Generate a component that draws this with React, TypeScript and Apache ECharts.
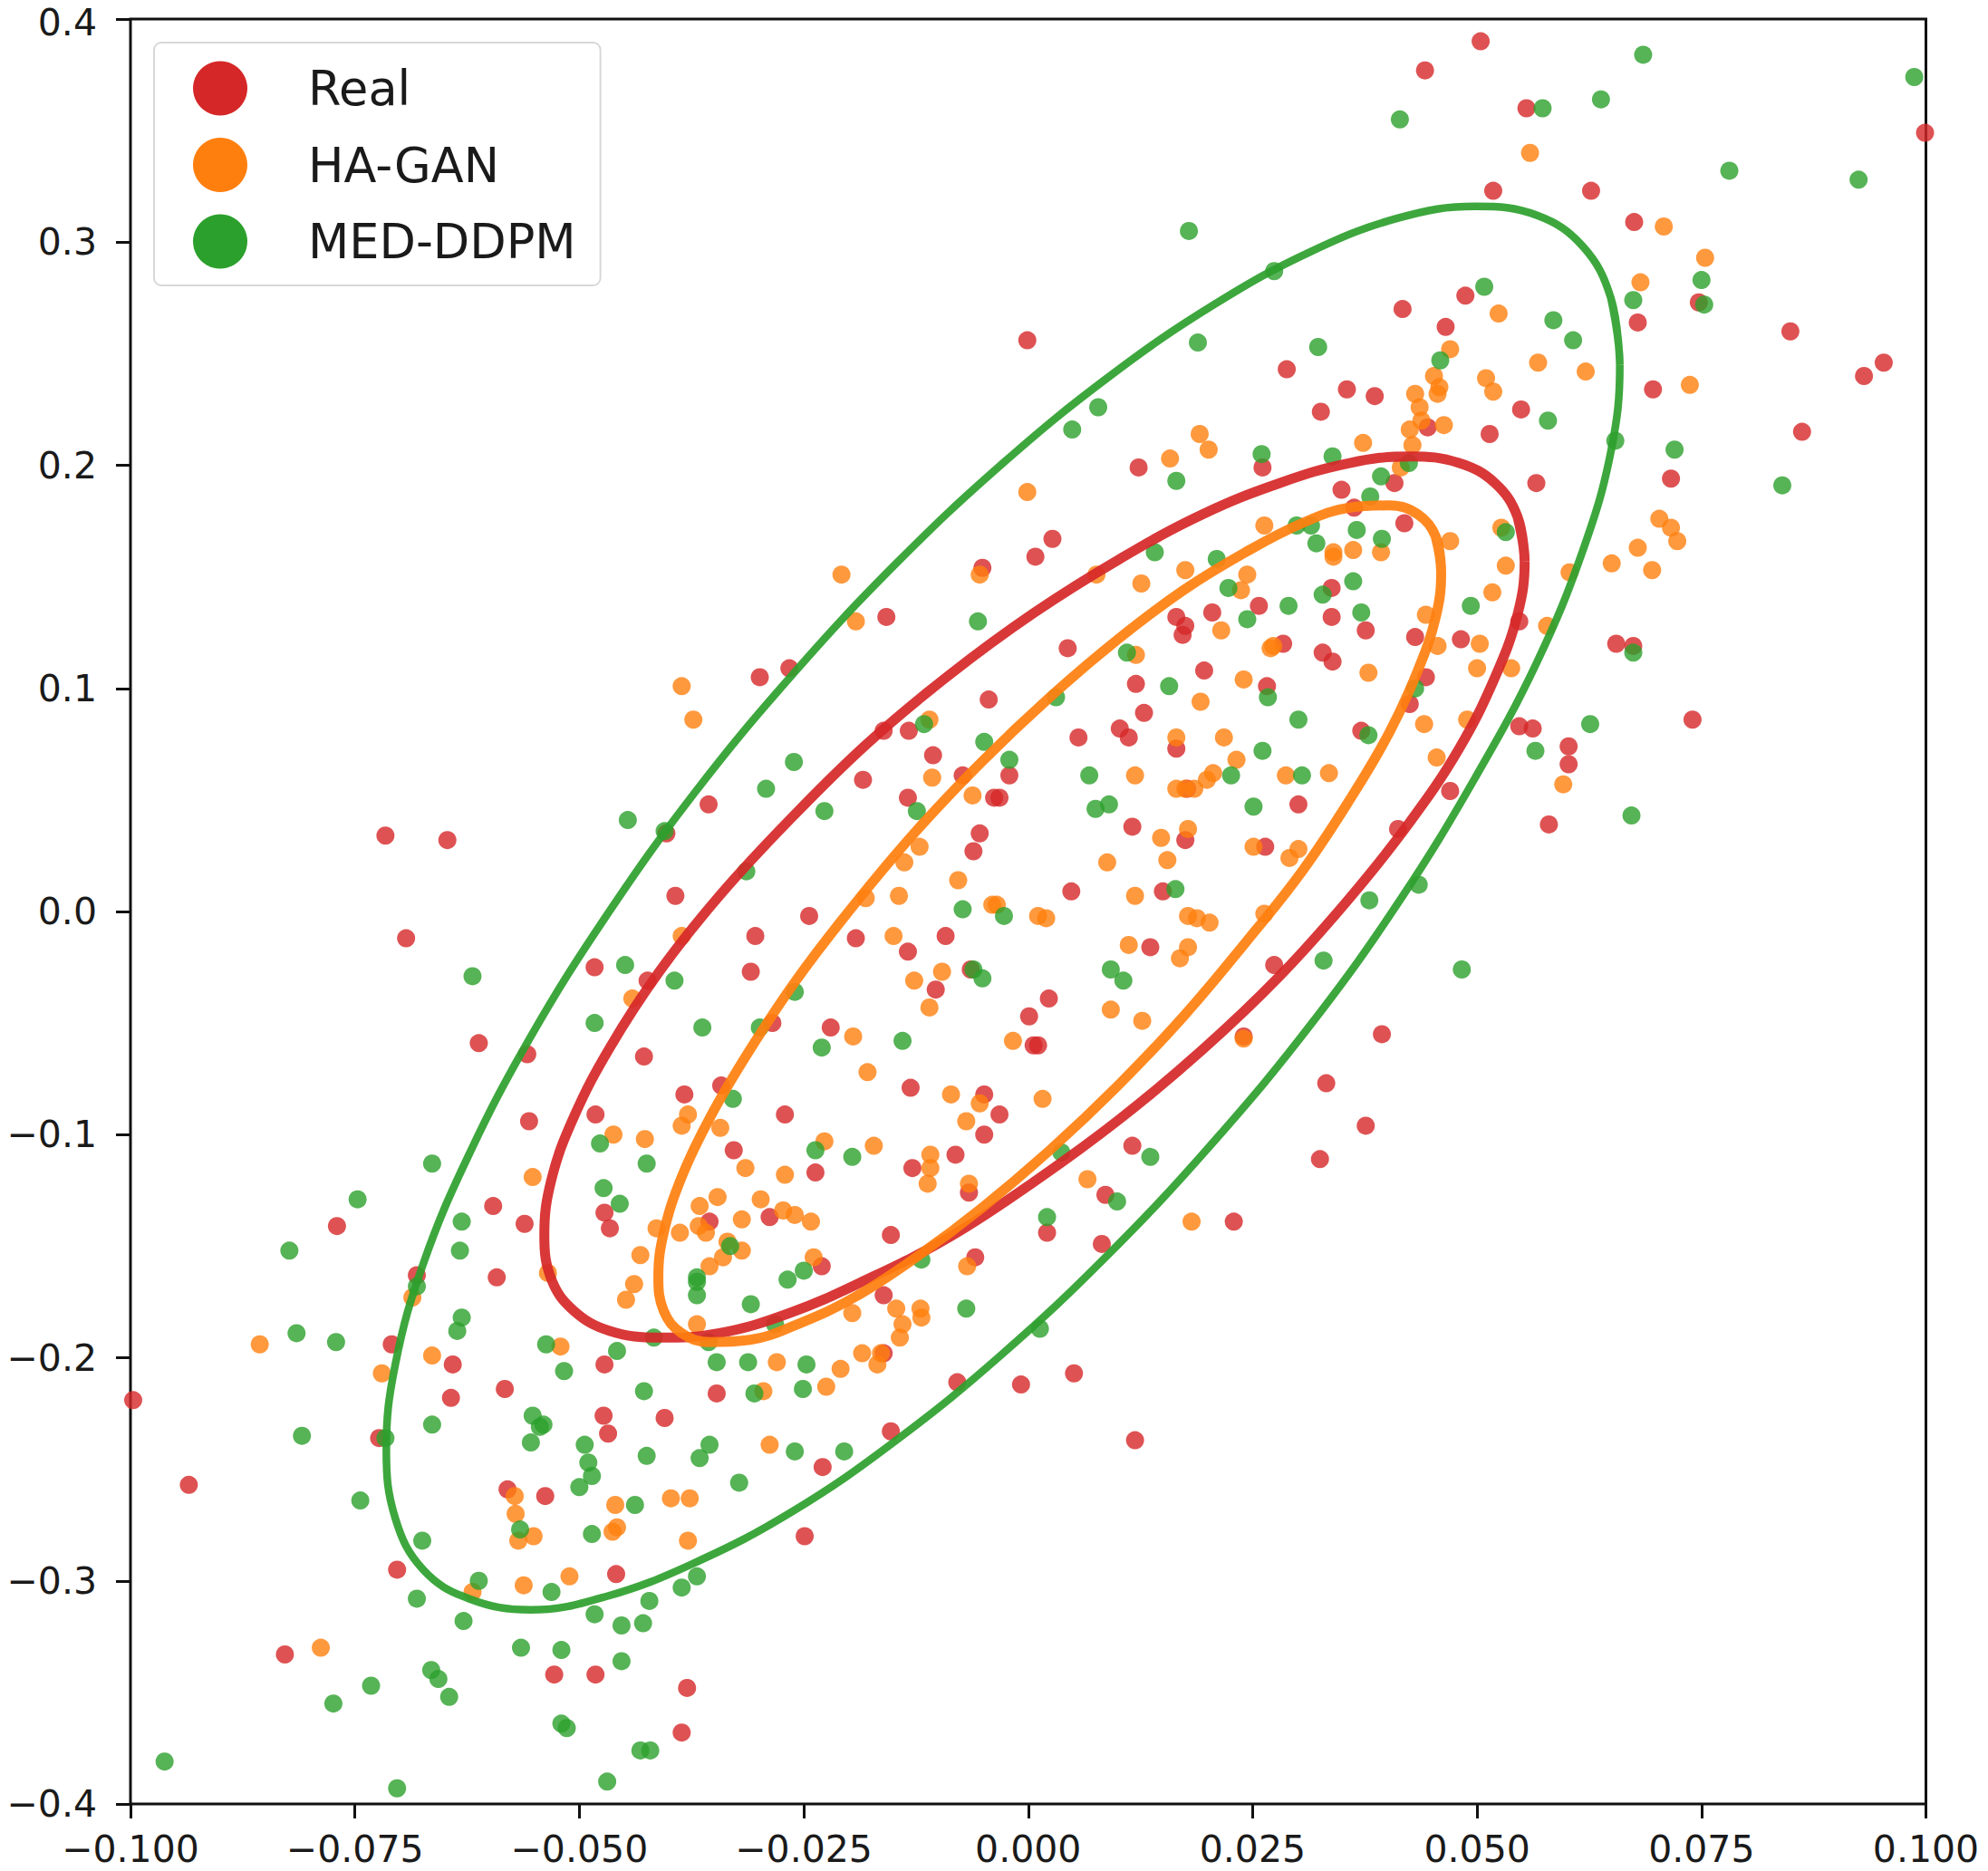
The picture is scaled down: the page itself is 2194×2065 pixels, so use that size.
import { useEffect, useRef } from 'react';
import * as echarts from 'echarts';

const seriesNames = ['Real', 'HA-GAN', 'MED-DDPM'];
const seriesColors = ['#d62728', '#ff7f0e', '#2ca02c'];

const realPoints = [
  [.0504,.390],[.0442,.377],[.0555,.360],[.0999,.349],[.0518,.323],[.0627,.323],[.0675,.309],[.0747,.273],[.0679,.264],[.0849,.260],
  [.0931,.240],[.0953,.246],[.0487,.276],[.0465,.262],[.0417,.270],[.0288,.243],[.0355,.234],[.0386,.231],[.0326,.224],[.0549,.225],
  [.0514,.214],[.0696,.234],[.0862,.215],[.0445,.217],[.0566,.192],[.0716,.194],[.0349,.189],[.0408,.192],[.0261,.199],[.0419,.174],
  [.0363,.181],[.0338,.145],[.0338,.132],[.0376,.126],[.0431,.123],[.0482,.122],[.0547,.130],[.0284,.120],[.0328,.116],[.0655,.120],
  [.0674,.119],[.0008,.159],[.0027,.167],[.0165,.132],[.0175,.128],[.0172,.124],[.0205,.134],[.0257,.137],[.0044,.118],[.0339,.112],
  [.0196,.108],[.0120,.102],[.0129,.089],[.0266,.101],[.0443,.105],[.0425,.093],[.0102,.082],[.0112,.078],[.0056,.078],[.0165,.073],
  [.0371,.081],[.0547,.083],[.0562,.082],[-.0021,.061],[-.0032,.051],[.0177,.055],[.0301,.048],[.0470,.054],[.0116,.038],[.0175,.032],
  [.0264,.029],[.0412,.037],[.0048,.009],[.0150,.009],[.0136,-.016],[.0274,-.024],[.0023,-.039],[.0001,-.047],[.0006,-.060],[.0011,-.060],
  [.0240,-.056],[.0394,-.055],[.0332,-.077],[.0740,.086],[.0602,.074],[.0602,.066],[.0580,.039],[.0325,-.111],[.0376,-.096],[.0116,-.105],
  [.0086,-.127],[.0229,-.139],[.0082,-.149],[.0119,-.237],[.0021,-.144],[-.0008,-.212],[.0051,-.207],[-.0299,.105],[-.0266,.109],[-.0044,.095],
  [-.0161,.081],[-.0133,.081],[-.0106,.070],[-.0073,.061],[-.0184,.059],[-.0134,.051],[-.0038,.051],[-.0356,.048],[-.0403,.035],[-.0054,.035],
  [-.0061,.027],[-.0393,.007],[-.0244,-.002],[-.0304,-.011],[-.0192,-.012],[-.0092,-.011],[-.0134,-.018],[-.0483,-.025],[-.0309,-.027],[-.0064,-.026],
  [-.0424,-.031],[-.0103,-.035],[-.0220,-.052],[-.0285,-.050],[-.0428,-.065],[-.0383,-.082],[-.0342,-.078],[-.0131,-.079],[-.0049,-.082],[-.0032,-.091],
  [-.0049,-.100],[-.0482,-.091],[-.0271,-.091],[-.0328,-.107],[-.0081,-.109],[-.0129,-.115],[-.0237,-.117],[-.0472,-.135],[-.0466,-.142],[-.0355,-.139],
  [-.0288,-.137],[-.0066,-.126],[-.0153,-.145],[-.0059,-.155],[-.0230,-.159],[-.0161,-.172],[-.0472,-.203],[-.0161,-.198],[-.0347,-.216],[-.0473,-.226],
  [-.0468,-.234],[-.0405,-.227],[-.0079,-.211],[-.0153,-.233],[-.0229,-.249],[-.0249,-.280],[-.0538,-.262],[-.0459,-.297],[-.0770,-.141],[-.0596,-.132],
  [-.0561,-.140],[-.0592,-.164],[-.0681,-.163],[-.0709,-.194],[-.0997,-.219],[-.0641,-.203],[-.0643,-.218],[-.0583,-.214],[-.0723,-.236],[-.0935,-.257],
  [-.0580,-.259],[-.0703,-.295],[-.0828,-.333],[-.0528,-.342],[-.0482,-.342],[-.0380,-.348],[-.0386,-.368],[-.0716,.034],[-.0647,.032],[-.0693,-.012],
  [-.0612,-.059],[-.0558,-.064],[-.0556,-.094],[-.0001,.256],[-.0158,.132],[-.0051,.154],[.0123,.199],
];

const haGanPoints = [
  [.0559,.340],[.0708,.307],[.0754,.293],[.0682,.282],[.0524,.268],[.0568,.246],[.0621,.242],[.0510,.239],[.0518,.233],[.0737,.236],
  [.0470,.252],[.0452,.240],[.0458,.235],[.0456,.232],[.0431,.232],[.0436,.226],[.0438,.220],[.0425,.216],[.0463,.218],[.0428,.209],
  [.0373,.210],[.0415,.199],[.0703,.176],[.0716,.172],[.0723,.166],[.0679,.163],[.0650,.156],[.0695,.153],[.0603,.152],[.0527,.172],
  [.0470,.166],[.0532,.155],[.0517,.143],[.0578,.128],[.0503,.120],[.0456,.119],[.0443,.133],[.0362,.162],[.0340,.161],[.0340,.159],
  [.0393,.161],[.0263,.173],[.0273,.119],[.0076,.151],[.0175,.153],[.0126,.147],[.0244,.151],[.0237,.144],[.0215,.126],[.0270,.118],
  [.0120,.115],[.0500,.109],[.0538,.109],[.0379,.107],[.0240,.104],[.0192,.094],[.0441,.084],[.0489,.086],[.0455,.069],[.0165,.078],
  [.0218,.078],[.0232,.068],[.0206,.062],[.0199,.059],[.0185,.055],[.0175,.055],[.0165,.055],[.0119,.061],[.0287,.061],[.0335,.062],
  [.0178,.037],[.0148,.033],[.0251,.029],[.0301,.028],[.0291,.024],[.0088,.022],[.0155,.023],[.0119,.007],[-.0035,.003],[.0011,-.002],
  [.0020,-.003],[.0178,-.002],[.0188,-.003],[.0202,-.005],[.0263,-.001],[.0112,-.015],[.0178,-.016],[.0169,-.021],[.0092,-.044],[.0127,-.049],
  [-.0017,-.058],[.0240,-.057],[.0596,.057],[.0066,-.120],[.0182,-.139],[-.0386,.101],[-.0373,.086],[-.0110,.086],[-.0107,.060],[-.0062,.052],
  [-.0121,.029],[-.0138,.022],[-.0078,.014],[-.0181,.006],[-.0144,.007],[-.0040,.003],[-.0386,-.011],[-.0150,-.011],[-.0441,-.039],[-.0127,-.031],
  [-.0096,-.027],[-.0110,-.043],[-.0195,-.056],[-.0179,-.072],[-.0086,-.082],[.0016,-.084],[-.0054,-.086],[-.0069,-.094],[-.0379,-.091],[-.0386,-.096],
  [-.0462,-.100],[-.0427,-.102],[-.0343,-.097],[-.0227,-.103],[-.0172,-.105],[-.0109,-.109],[-.0109,-.115],[-.0112,-.122],[-.0315,-.115],[-.0271,-.118],
  [-.0066,-.122],[-.0346,-.128],[-.0298,-.129],[-.0366,-.132],[-.0273,-.134],[-.0260,-.136],[-.0319,-.138],[-.0242,-.139],[-.0414,-.142],[-.0388,-.144],
  [-.0367,-.141],[-.0359,-.144],[-.0335,-.148],[-.0319,-.152],[-.0340,-.155],[-.0355,-.159],[-.0432,-.154],[-.0239,-.155],[-.0439,-.167],[-.0448,-.174],
  [-.0535,-.162],[-.0068,-.159],[-.0147,-.178],[-.0196,-.180],[-.0120,-.178],[-.0119,-.182],[-.0140,-.185],[-.0143,-.191],[-.0369,-.185],[-.0185,-.198],
  [-.0168,-.203],[-.0164,-.198],[-.0209,-.205],[-.0280,-.202],[-.0225,-.213],[-.0295,-.215],[-.0521,-.195],[-.0288,-.239],[-.0398,-.263],[-.0377,-.263],
  [-.0460,-.266],[-.0458,-.276],[-.0463,-.278],[-.0379,-.282],[-.0511,-.298],[-.0562,-.302],[-.0552,-.119],[-.0686,-.173],[-.0856,-.194],[-.0664,-.199],
  [-.0720,-.207],[-.0572,-.262],[-.0571,-.270],[-.0568,-.282],[-.0551,-.280],[-.0619,-.305],[-.0788,-.330],
  [-.0001,.188],[-.0208,.151],[-.0192,.130],[-.0054,.151],[.0158,.203],[.0191,.214],[.0201,.207],
];

const medDdpmPoints = [
  [.0685,.384],[.0987,.374],[.0638,.364],[.0573,.360],[.0414,.355],[.0781,.332],[.0925,.328],[.0750,.283],[.0753,.272],[.0674,.274],
  [.0508,.280],[.0585,.265],[.0607,.256],[.0323,.253],[.0459,.247],[.0579,.220],[.0720,.207],[.0840,.191],[.0654,.211],[.0339,.204],
  [.0424,.201],[.0393,.195],[.0381,.186],[.0299,.173],[.0315,.173],[.0366,.171],[.0394,.167],[.0321,.165],[.0362,.148],[.0328,.142],
  [.0290,.137],[.0371,.134],[.0493,.137],[.0532,.170],[.0674,.116],[.0274,.287],[.0141,.161],[.0210,.158],[.0223,.145],[.0244,.131],
  [.0110,.116],[.0031,.096],[.0157,.101],[.0431,.100],[.0267,.096],[.0301,.086],[.0379,.079],[.0261,.072],[-.0021,.068],[.0068,.061],
  [.0226,.061],[.0305,.061],[.0565,.072],[.0090,.048],[.0075,.046],[.0251,.047],[.0164,.010],[.0380,.005],[-.0027,-.002],[.0329,-.022],
  [.0092,-.026],[.0106,-.031],[.0483,-.026],[.0435,.012],[.0672,.043],[.0626,.084],[.0136,-.110],[.0099,-.130],[.0021,-.137],[.0037,-.108],
  [.0013,-.187],[-.0116,.084],[-.0049,.076],[-.0261,.067],[-.0292,.055],[-.0227,.045],[-.0124,.045],[-.0446,.041],[-.0405,.036],[-.0314,.018],
  [-.0073,.001],[-.0449,-.024],[-.0394,-.031],[-.0061,-.026],[-.0051,-.030],[-.0260,-.036],[-.0483,-.050],[-.0363,-.052],[-.0299,-.052],[-.0230,-.061],
  [-.0140,-.058],[-.0329,-.084],[-.0477,-.104],[-.0425,-.113],[-.0237,-.107],[-.0196,-.110],[-.0473,-.124],[-.0455,-.131],[-.0332,-.150],[-.0369,-.164],
  [-.0369,-.166],[-.0369,-.172],[-.0268,-.165],[-.0250,-.161],[-.0309,-.176],[-.0119,-.156],[-.0069,-.178],[-.0282,-.185],[-.0356,-.193],[-.0417,-.191],
  [-.0458,-.197],[-.0537,-.194],[-.0517,-.206],[-.0347,-.202],[-.0312,-.202],[-.0247,-.203],[-.0251,-.214],[-.0305,-.216],[-.0428,-.215],[-.0540,-.230],
  [-.0494,-.239],[-.0490,-.247],[-.0486,-.253],[-.0500,-.258],[-.0425,-.244],[-.0355,-.239],[-.0366,-.245],[-.0322,-.256],[-.0260,-.242],[-.0205,-.242],
  [-.0438,-.266],[-.0486,-.279],[-.0531,-.305],[-.0422,-.309],[-.0386,-.303],[-.0369,-.298],[-.0483,-.315],[-.0453,-.320],[-.0429,-.319],[-.0747,-.129],
  [-.0823,-.152],[-.0631,-.139],[-.0633,-.152],[-.0681,-.168],[-.0631,-.182],[-.0636,-.188],[-.0815,-.189],[-.0771,-.193],[-.0809,-.235],[-.0664,-.230],
  [-.0716,-.236],[-.0552,-.226],[-.0544,-.231],[-.0554,-.238],[-.0744,-.264],[-.0566,-.277],[-.0675,-.282],[-.0612,-.300],[-.0681,-.308],[-.0629,-.318],
  [-.0565,-.330],[-.0520,-.331],[-.0453,-.336],[-.0665,-.340],[-.0657,-.344],[-.0645,-.352],[-.0732,-.347],[-.0774,-.355],[-.0520,-.364],[-.0514,-.366],
  [-.0962,-.381],[-.0703,-.393],[-.0469,-.390],[-.0432,-.376],[-.0421,-.376],[-.0619,-.029],[-.0664,-.113],
  [-.0056,.130],[.0049,.216],[.0078,.226],[.0189,.255],[.0179,.305],[.0260,.205],[.0165,.193],
];

// Outlines, one point every few degrees round each curve
const realOutline = [
  [.0553,.157],[.0545,.177],[.0520,.192],[.0480,.201],[.0425,.204],[.0358,.201],[.0280,.192],[.0194,.178],[.0102,.158],[.0007,.134],
  [-.0088,.106],[-.0180,.075],[-.0266,.041],[-.0344,.007],[-.0411,-.027],[-.0466,-.061],[-.0506,-.092],[-.0531,-.120],[-.0539,-.145],[-.0531,-.165],
  [-.0506,-.179],[-.0466,-.188],[-.0411,-.191],[-.0344,-.189],[-.0266,-.180],[-.0180,-.165],[-.0088,-.146],[.0007,-.121],[.0102,-.093],[.0194,-.062],
  [.0280,-.029],[.0358,.006],[.0425,.040],[.0480,.073],[.0520,.105],[.0545,.133],[.0553,.157],[.0545,.177],
];

const haGanOutline = [
  [.0460,.152],[.0454,.168],[.0434,.178],[.0402,.182],[.0358,.181],[.0305,.174],[.0242,.161],[.0173,.144],[.0100,.122],[.0024,.096],
  [-.0052,.067],[-.0125,.036],[-.0194,.003],[-.0257,-.030],[-.0310,-.062],[-.0354,-.092],[-.0386,-.119],[-.0406,-.144],[-.0412,-.164],[-.0406,-.179],
  [-.0386,-.189],[-.0354,-.193],[-.0310,-.192],[-.0257,-.185],[-.0194,-.173],[-.0125,-.155],[-.0052,-.133],[.0024,-.107],[.0100,-.078],[.0173,-.047],
  [.0242,-.014],[.0305,.018],[.0358,.050],[.0402,.080],[.0434,.108],[.0454,.132],[.0460,.152],[.0454,.168],
];

const medDdpmOutline = [
  [.0659,.245],[.0649,.275],[.0618,.298],[.0567,.312],[.0498,.316],[.0414,.311],[.0316,.296],[.0207,.272],[.0091,.240],[-.0028,.201],
  [-.0147,.156],[-.0263,.106],[-.0372,.053],[-.0470,-.002],[-.0554,-.056],[-.0623,-.109],[-.0674,-.158],[-.0705,-.203],[-.0715,-.241],[-.0705,-.272],
  [-.0674,-.295],[-.0623,-.308],[-.0554,-.313],[-.0470,-.307],[-.0372,-.292],[-.0263,-.269],[-.0147,-.237],[-.0028,-.198],[.0091,-.153],[.0207,-.103],
  [.0316,-.050],[.0414,.005],[.0498,.060],[.0567,.112],[.0618,.162],[.0649,.206],[.0659,.245],[.0649,.275],
];

const pointSets = [realPoints, haGanPoints, medDdpmPoints];
const outlines = [realOutline, haGanOutline, medDdpmOutline];
const outlineWidths = [11, 11, 8.5];

const fontFamily = 'DejaVu Sans';

// matplotlib writes negative ticks with a real minus sign
const tickLabel = (value: number, digits: number) =>
  (value < -1e-9 ? '\u2212' : '') + Math.abs(value).toFixed(digits);

export default function App() {
  const chartRef = useRef<HTMLDivElement>(null);

  useEffect(() => {
    if (!chartRef.current) return;

    const chart = echarts.init(chartRef.current, undefined, { renderer: 'svg' });

    const series: any[] = [];
    seriesNames.forEach((name, i) => {
      series.push({
        name: name + ' outline',
        type: 'line',
        data: outlines[i],
        smooth: 0.4,
        showSymbol: false,
        symbol: 'none',
        silent: true,
        lineStyle: { color: seriesColors[i], width: outlineWidths[i], opacity: 0.92 },
      });
      series.push({
        name,
        type: 'scatter',
        data: pointSets[i],
        symbolSize: 20,
        silent: true,
        itemStyle: { color: seriesColors[i], opacity: 0.8 },
      });
    });

    const axisBase = {
      type: 'value' as const,
      splitLine: { show: false },
      axisLine: { show: false, onZero: false },
      axisTick: { show: true, length: 16, lineStyle: { color: '#111', width: 3 } },
    };

    chart.setOption({
      animation: false,
      backgroundColor: '#fff',
      grid: {
        show: true,
        left: 144,
        top: 21,
        width: 1981.5,
        height: 1970,
        borderColor: '#111',
        borderWidth: 3,
        backgroundColor: 'transparent',
      },
      xAxis: {
        ...axisBase,
        min: -0.1,
        max: 0.1,
        interval: 0.025,
        axisLabel: {
          fontFamily,
          fontSize: 41,
          color: '#1a1a1a',
          margin: 29,
          formatter: (value: number) => tickLabel(value, 3),
        },
      },
      yAxis: {
        ...axisBase,
        min: -0.4,
        max: 0.4,
        interval: 0.1,
        axisLabel: {
          fontFamily,
          fontSize: 41,
          color: '#1a1a1a',
          margin: 37,
          // the top label sits a little below its tick so that it stays on the page
          formatter: (value: number) =>
            value > 0.399 ? `{top|${tickLabel(value, 1)}}` : tickLabel(value, 1),
          rich: {
            top: { fontFamily, fontSize: 41, color: '#1a1a1a', padding: [8, 0, 0, 0] },
          },
        },
      },
      legend: {
        data: seriesNames,
        orient: 'vertical',
        left: 170,
        top: 47,
        padding: [20.5, 27, 18.5, 43],
        itemWidth: 60,
        itemHeight: 60,
        itemGap: 24.5,
        icon: 'circle',
        selectedMode: false,
        backgroundColor: 'rgba(255,255,255,0.8)',
        borderColor: '#d8d8d8',
        borderWidth: 2,
        borderRadius: 8,
        itemStyle: { opacity: 1 },
        textStyle: { fontFamily, fontSize: 52.5, lineHeight: 44, color: '#1a1a1a', padding: [0, 0, 8, 62] },
      },
      series,
    });

    return () => {
      chart.dispose();
    };
  }, []);

  return <div ref={chartRef} style={{ position: 'absolute', left: 0, top: 0, width: 2194, height: 2065 }} />;
}
